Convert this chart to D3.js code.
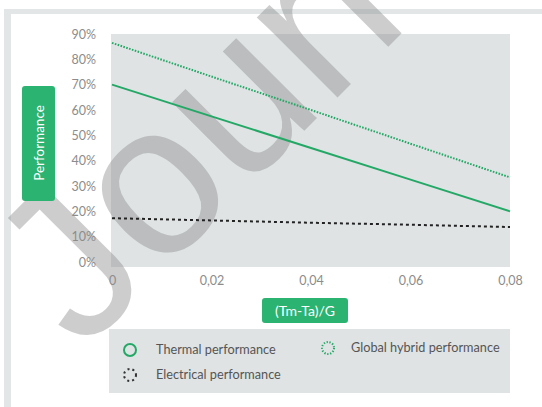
<!DOCTYPE html>
<html>
<head>
<meta charset="utf-8">
<script src="https://cdn.jsdelivr.net/npm/d3@7"></script>
<style>
  body { margin: 0; background: #fff; }
  svg { display: block; font-family: Lato, "Open Sans", sans-serif; }
</style>
</head>
<body>
<div class="holder"></div>
<script>
// data
const xValues = [0, 0.02, 0.04, 0.06, 0.08];
const thermal = [0.70, 0.575, 0.45, 0.325, 0.20];
const globalHybrid = [0.865, 0.732, 0.60, 0.467, 0.334];
const electrical = [0.173, 0.164, 0.155, 0.147, 0.138];
const yTicks = [0, 0.1, 0.2, 0.3, 0.4, 0.5, 0.6, 0.7, 0.8, 0.9];
const xTicks = [0, 0.02, 0.04, 0.06, 0.08];
const legendNames = ["Thermal performance", "Electrical performance", "Global hybrid performance"];

const w = 542, h = 407;
const green = "#24a866";
const labelGreen = "#2bb372";

const svg = d3.select(".holder").append("svg")
  .attr("width", w)
  .attr("height", h);

// outer frame (light grey border on top and left)
svg.append("rect").attr("x", 4).attr("y", 9).attr("width", w).attr("height", 5).attr("fill", "#e2e6e7");
svg.append("rect").attr("x", 4).attr("y", 9).attr("width", 7).attr("height", h).attr("fill", "#e2e6e7");

// scales
const xScale = d3.scaleLinear().domain([0, 0.08]).range([112, 510]);
const yScale = d3.scaleLinear().domain([0, 0.9]).range([262, 34]);

// plot background
svg.append("rect")
  .attr("x", 111).attr("y", 34)
  .attr("width", 510 - 111).attr("height", 267 - 34)
  .attr("fill", "#dfe3e4");

// legend box
svg.append("rect")
  .attr("x", 109).attr("y", 329).attr("width", 401).attr("height", 64)
  .attr("fill", "#dfe3e4");

// watermark (under lines and labels)
svg.append("text")
  .attr("transform", "translate(82,353) rotate(-45)")
  .attr("font-family", "Liberation Sans")
  .attr("font-size", 215)
  .attr("fill", "#8a8a8a")
  .attr("opacity", 0.42)
  .text("Journal Pre-proof");

// y axis ticks
const yAxis = svg.append("g")
  .attr("transform", "translate(96,0)")
  .call(d3.axisLeft(yScale).tickValues(yTicks).tickFormat(d3.format(".0%")).tickSize(0).tickPadding(0));
yAxis.select(".domain").remove();
yAxis.selectAll("text").attr("fill", "#8c8c8c").attr("font-size", 12.5).attr("font-family", "Lato");

// x axis ticks
const xAxis = svg.append("g")
  .attr("transform", "translate(0,276)")
  .call(d3.axisBottom(xScale).tickValues(xTicks).tickFormat(d => d === 0 ? "0" : d3.format(".2f")(d).replace(".", ",")).tickSize(0).tickPadding(0));
xAxis.select(".domain").remove();
xAxis.selectAll("text").attr("fill", "#8c8c8c").attr("font-size", 12.5).attr("font-family", "Lato");

// lines
const line = d3.line().x((d, i) => xScale(xValues[i])).y(d => yScale(d));

svg.append("path").datum(electrical)
  .attr("d", line).attr("fill", "none")
  .attr("stroke", "#222").attr("stroke-width", 2)
  .attr("stroke-dasharray", "3,3");

svg.append("path").datum(globalHybrid)
  .attr("d", line).attr("fill", "none")
  .attr("stroke", green).attr("stroke-width", 2)
  .attr("stroke-dasharray", "1.6,1.4");

svg.append("path").datum(thermal)
  .attr("d", line).attr("fill", "none")
  .attr("stroke", green).attr("stroke-width", 2);

// y axis title badge
svg.append("rect")
  .attr("x", 22).attr("y", 86).attr("width", 33).attr("height", 115)
  .attr("rx", 3).attr("fill", labelGreen);
svg.append("text")
  .attr("transform", "translate(39,143) rotate(-90)")
  .attr("dy", "0.35em")
  .attr("text-anchor", "middle")
  .attr("fill", "#fff").attr("font-size", 13.5)
  .text("Performance");

// x axis title badge
svg.append("rect")
  .attr("x", 262).attr("y", 298).attr("width", 86).attr("height", 25)
  .attr("rx", 3).attr("fill", labelGreen);
svg.append("text")
  .attr("x", 305).attr("y", 311)
  .attr("dy", "0.35em")
  .attr("text-anchor", "middle")
  .attr("fill", "#fff").attr("font-size", 14)
  .text("(Tm-Ta)/G");

// legend items
const legendItems = [
  { x: 130, y: 350, color: green, dash: null },
  { x: 130, y: 375, color: "#333", dash: "2,3" },
  { x: 328, y: 348, color: green, dash: "1.3,1.6" }
];
legendItems.forEach((it, i) => {
  svg.append("circle")
    .attr("cx", it.x).attr("cy", it.y).attr("r", 6)
    .attr("fill", "none").attr("stroke", it.color).attr("stroke-width", 2)
    .attr("stroke-dasharray", it.dash);
  svg.append("text")
    .attr("x", it.x + (i === 2 ? 23 : 26)).attr("y", it.y)
    .attr("dy", "0.35em")
    .attr("fill", "#555").attr("font-size", 12.7)
    .text(legendNames[i]);
});
</script>
</body>
</html>
